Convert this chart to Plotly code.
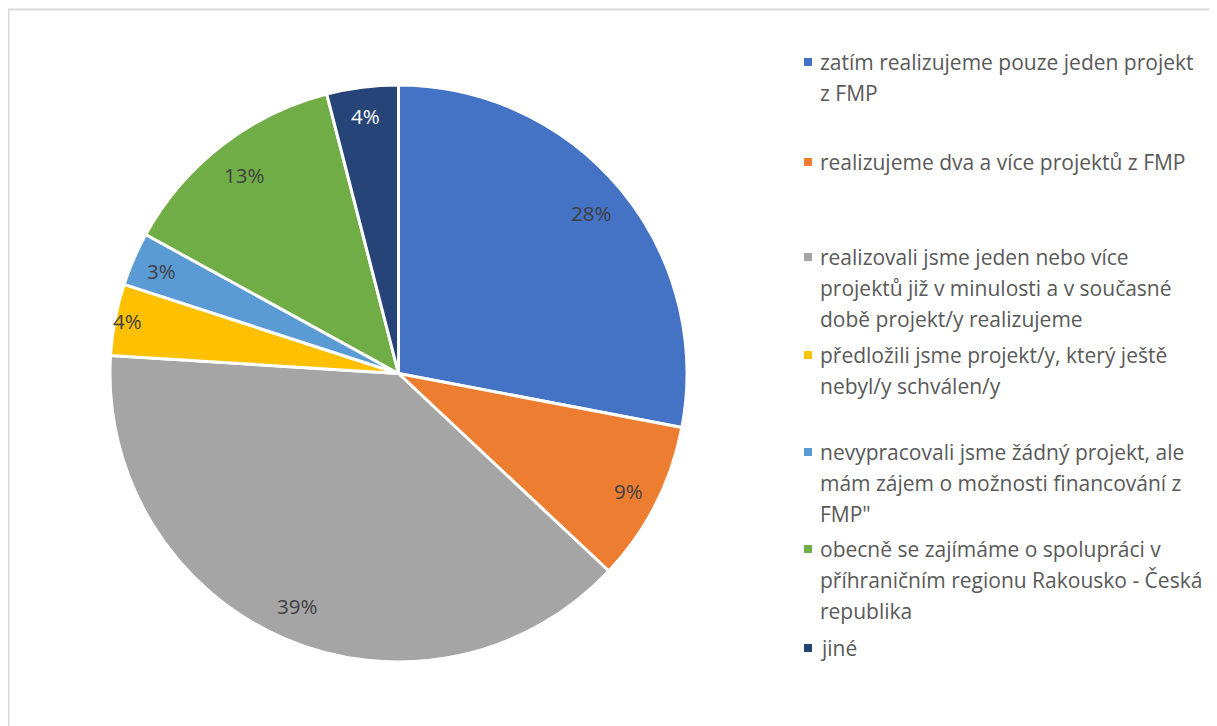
import math
import plotly.graph_objects as go

labels = [
    "zatím realizujeme pouze jeden projekt<br>z FMP",
    "realizujeme dva a více projektů z FMP",
    "realizovali jsme jeden nebo více<br>projektů již v minulosti a v současné<br>době projekt/y realizujeme",
    "předložili jsme projekt/y, který ještě<br>nebyl/y schválen/y",
    "nevypracovali jsme žádný projekt, ale<br>mám zájem o možnosti financování z<br>FMP\"",
    "obecně se zajímáme o spolupráci v<br>příhraničním regionu Rakousko - Česká<br>republika",
    "jiné",
]
values = [28, 9, 39, 4, 3, 13, 4]
colors = ["#4472C4", "#ED7D31", "#A5A5A5", "#FFC000", "#5B9BD5", "#70AD47", "#264478"]
label_colors = ["#404040", "#404040", "#404040", "#404040", "#404040", "#404040", "#FFFFFF"]

# page has an 8px body margin: figure is offset by 8px from the window
OFF = 8
W, H = 1217 - OFF, 726 - OFF
FONT = "Open Sans"

def px(x):
    return (x - OFF) / W

def py(y):
    return 1 - (y - OFF) / H

cx, cy, r = 398, 373, 288

fig = go.Figure()
fig.add_trace(go.Pie(
    labels=[l.replace("<br>", " ") for l in labels],
    values=values,
    sort=False,
    direction="clockwise",
    rotation=0,
    marker=dict(colors=colors, line=dict(color="white", width=3)),
    textinfo="none",
    domain=dict(x=[px(cx - r), px(cx + r + 1)], y=[py(cy + r + 1), py(cy - r)]),
    showlegend=False,
    hoverinfo="label+percent",
))

annotations = []
# data labels placed radially at each slice's mid-angle
radial = [0.87, 0.90, 0.88, 0.955, 0.895, 0.87, 0.90]
total = sum(values)
cum = 0
for i, v in enumerate(values):
    mid = (cum + v / 2) / total * 2 * math.pi
    cum += v
    d = radial[i] * r
    lx = cx + d * math.sin(mid)
    ly = cy - d * math.cos(mid)
    annotations.append(dict(
        x=px(lx), y=py(ly), xref="paper", yref="paper",
        text=f"{round(v / total * 100)}%", showarrow=False,
        xanchor="center", yanchor="middle",
        font=dict(family=FONT, size=20.5, color=label_colors[i]),
    ))

# custom legend
first_line_y = [62, 162, 257, 355, 452, 549, 648]
line_h = 30.8
shapes = [dict(type="rect", xref="paper", yref="paper",
               x0=px(8.5), x1=px(1400), y0=py(900), y1=py(9.5),
               line=dict(color="#D9D9D9", width=2), fillcolor="rgba(0,0,0,0)")]
for i, lab in enumerate(labels):
    y0 = first_line_y[i]
    shapes.append(dict(type="rect", xref="paper", yref="paper",
                       x0=px(804), x1=px(812), y0=py(y0 + 4), y1=py(y0 - 4),
                       fillcolor=colors[i], line=dict(width=0)))
    for j, line in enumerate(lab.split("<br>")):
        annotations.append(dict(
            x=px(818), y=py(y0 + j * line_h), xref="paper", yref="paper",
            text=line, showarrow=False, xanchor="left", yanchor="middle",
            font=dict(family=FONT, size=21, color="#595959"),
        ))

fig.update_layout(
    width=W, height=H,
    margin=dict(l=0, r=0, t=0, b=0),
    paper_bgcolor="white",
    plot_bgcolor="white",
    shapes=shapes,
    annotations=annotations,
)

fig.write_html("out.html")
